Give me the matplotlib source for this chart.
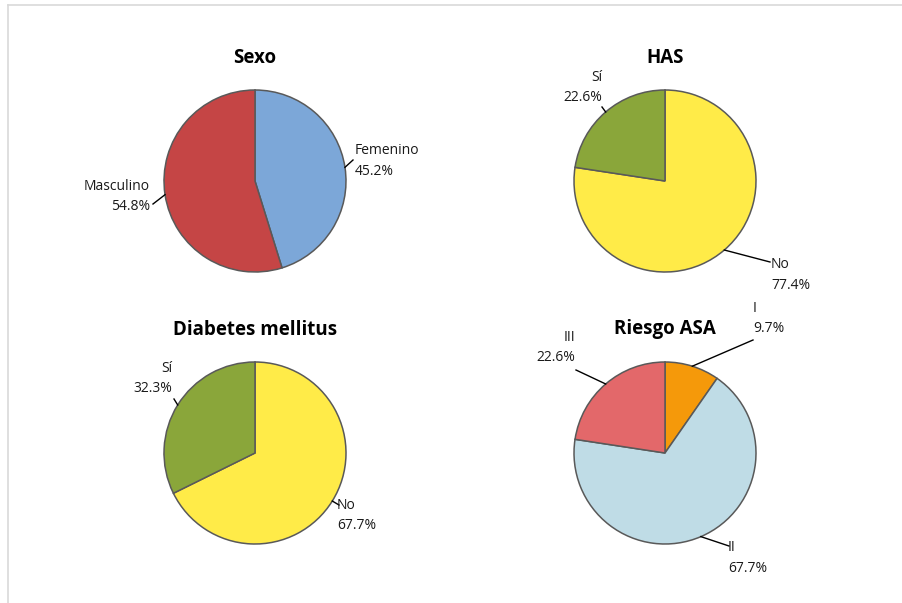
import numpy as np
import matplotlib.pyplot as plt

plt.rcParams['font.family'] = ['Open Sans', 'DejaVu Sans']

# data
sexo_labels = ['Femenino', 'Masculino']
sexo_vals = [45.2, 54.8]
has_labels = ['No', 'Sí']
has_vals = [77.4, 22.6]
dm_labels = ['No', 'Sí']
dm_vals = [67.7, 32.3]
asa_labels = ['I', 'II', 'III']
asa_vals = [9.7, 67.7, 22.6]

W, H = 902, 603


def Y(p):
    # pixel row -> data y
    return H - p


fig = plt.figure(figsize=(W / 100, H / 100), dpi=100)
ax = fig.add_axes([0, 0, 1, 1])

R = 91
charts = [
    ('Sexo', sexo_labels, sexo_vals, ['#7CA7D8', '#C54545'], (255, 181), 58,
     [((353, 160), (355, 161), 'left'), ((153, 204), (150, 196.5), 'right')]),
    ('HAS', has_labels, has_vals, ['#FFEB48', '#8AA63A'], (665, 181), 58,
     [((770, 262), (771, 275), 'left'), ((602, 107), (602, 87.5), 'right')]),
    ('Diabetes mellitus', dm_labels, dm_vals, ['#FFEB48', '#8AA63A'], (255, 453), 330,
     [((339, 505), (337, 515.5), 'left'), ((174, 399), (172, 378.5), 'right')]),
    ('Riesgo ASA', asa_labels, asa_vals, ['#F5990A', '#BFDCE6', '#E3686A'], (665, 453), 329,
     [((753, 340), (753, 318.5), 'left'), ((729, 546), (728, 558), 'left'),
      ((576, 370), (575, 347.5), 'right')]),
]

for title, labels, vals, cols, (cx, cy), ty, lay in charts:
    wedges, _ = ax.pie(vals, colors=cols, startangle=90, counterclock=False,
                       center=(cx, Y(cy)), radius=R,
                       wedgeprops=dict(edgecolor='#595959', linewidth=1.1))
    ax.text(cx, Y(ty), title, ha='center', va='center', fontsize=13.5,
            fontweight='bold', color='black')
    for w, lab, v, (end, tpos, ha) in zip(wedges, labels, vals, lay):
        mid = np.deg2rad((w.theta1 + w.theta2) / 2)
        x0 = cx + R * np.cos(mid)
        y0 = Y(cy) + R * np.sin(mid)
        ax.plot([x0, end[0]], [y0, Y(end[1])], color='black', lw=1)
        ax.text(tpos[0], Y(tpos[1]), f'{lab}\n{v:.1f}%', ha=ha, va='center',
                multialignment=ha, fontsize=10, linespacing=1.5, color='#1a1a1a')

# chart area border (top and left visible)
ax.plot([8, W], [Y(4.5), Y(4.5)], color='#D9D9D9', lw=1.2)
ax.plot([8, 8], [Y(4.5), 0], color='#D9D9D9', lw=1.2)

ax.set_xlim(0, W)
ax.set_ylim(0, H)
ax.set_aspect('auto')
ax.axis('off')

fig.savefig('out.png', dpi=100)
